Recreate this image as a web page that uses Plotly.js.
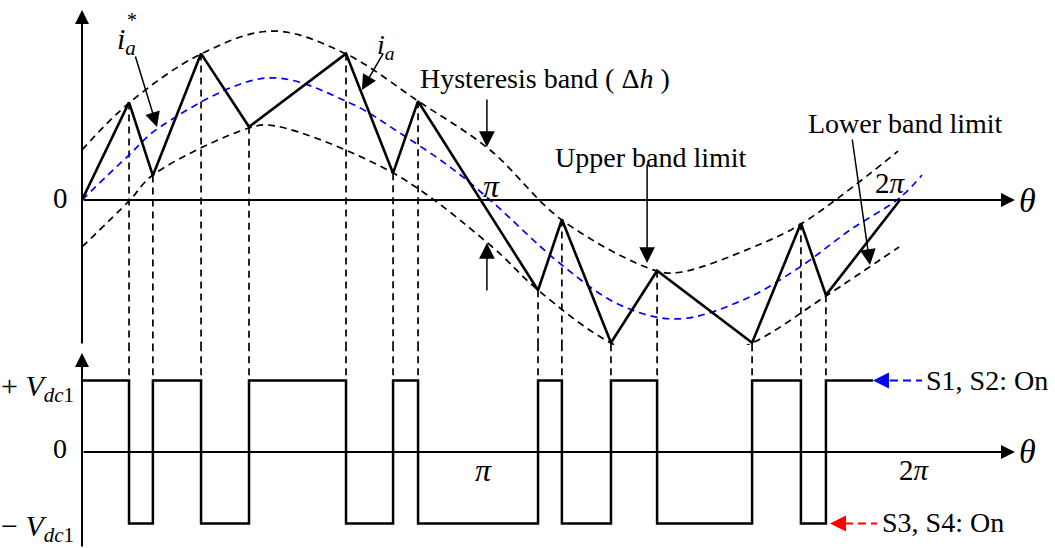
<!DOCTYPE html>
<html>
<head>
<meta charset="utf-8">
<script src="https://cdn.plot.ly/plotly-3.0.1.min.js"></script>
<style>
  html, body { margin: 0; padding: 0; background: #ffffff; }
  #chart { width: 1055px; height: 548px; }
</style>
</head>
<body>
<div id="chart"></div>
<script>
// Phase current i_a (turning points of the hysteresis-controlled current), theta in degrees
const iaTheta = [0, 20.7, 31.2, 52.4, 73.5, 116.2, 136.9, 147.9, 200.7, 211.2, 232.8, 253.1, 294.9, 316.4, 327.4, 360];
const iaValue = [0, 0.80, 0.20, 1.20, 0.60, 1.20, 0.22, 0.81, -0.74, -0.16, -1.17, -0.58, -1.17, -0.19, -0.78, 0];

// Reference current i_a*
const refTheta = [0, 20.2, 34.3, 81.4, 117.9, 139.9, 162.0, 179.6, 211.2, 236.8, 261.9, 290.9, 316.0, 338.0, 360.0, 369.7];
const refValue = [0, 0.36, 0.598, 1.0, 0.795, 0.549, 0.27, 0, -0.533, -0.861, -0.975, -0.82, -0.549, -0.246, 0.02, 0.205];

// Upper band limit
const upperTheta = [0, 20.7, 52.4, 84.1, 116.2, 147.9, 179.6, 211.2, 253.1, 264.0, 294.9, 316.4, 359.1];
const upperValue = [0.41, 0.795, 1.197, 1.385, 1.197, 0.811, 0.41, -0.164, -0.582, -0.59, -0.39, -0.197, 0.40];

// Lower band limit
const lowerTheta = [0, 21.1, 31.2, 73.5, 84.1, 136.9, 179.6, 200.7, 232.8, 263.2, 294.9, 327.4, 359.6];
const lowerValue = [-0.385, 0, 0.205, 0.59, 0.61, 0.221, -0.369, -0.738, -1.172, -1.37, -1.172, -0.787, -0.385];

// Inverter output voltage: segment start angles and levels (+1 = +Vdc1, -1 = -Vdc1)
const gateStart = [0, 20.7, 31.2, 52.4, 73.5, 116.2, 136.9, 147.9, 200.7, 211.2, 232.8, 253.1, 294.9, 316.4, 327.4];
const gateLevel = [1, -1, 1, -1, 1, -1, 1, -1, 1, -1, 1, -1, 1, -1, 1];
const gateEnd = 348.1;

const FONT = 'Liberation Serif, Times New Roman, serif';
const TOP_MIN = -1.1885, TOP_MAX = 1.6393;
const BOT_MIN = -1.3427, BOT_MAX = 1.4965;

// Dashed projection lines from each switching instant down to the +Vdc1 level
const dropTopX = [], dropTopY = [], dropBotX = [], dropBotY = [];
for (let k = 1; k < iaTheta.length - 1; k++) {
  dropTopX.push(iaTheta[k], iaTheta[k], null);
  dropTopY.push(iaValue[k], TOP_MIN - 0.01, null);
  dropBotX.push(iaTheta[k], iaTheta[k], null);
  dropBotY.push(BOT_MAX + 0.01, 1, null);
}

const dashBlack = {color: '#000000', width: 1.7, dash: '7px,5px'};

const traces = [
  {x: dropTopX, y: dropTopY, mode: 'lines', line: dashBlack, xaxis: 'x', yaxis: 'y'},
  {x: dropBotX, y: dropBotY, mode: 'lines', line: dashBlack, xaxis: 'x', yaxis: 'y2'},
  {x: upperTheta, y: upperValue, mode: 'lines', line: Object.assign({shape: 'spline', smoothing: 1}, dashBlack), xaxis: 'x', yaxis: 'y'},
  {x: lowerTheta, y: lowerValue, mode: 'lines', line: Object.assign({shape: 'spline', smoothing: 1}, dashBlack), xaxis: 'x', yaxis: 'y'},
  {x: refTheta, y: refValue, mode: 'lines', line: {color: '#0000ff', width: 1.7, dash: '7px,5px', shape: 'spline', smoothing: 1}, xaxis: 'x', yaxis: 'y'},
  {x: iaTheta, y: iaValue, mode: 'lines', line: {color: '#000000', width: 2.6}, xaxis: 'x', yaxis: 'y'},
  {x: gateStart.concat([gateEnd]), y: gateLevel.concat([gateLevel[gateLevel.length - 1]]), mode: 'lines',
   line: {color: '#000000', width: 2.5, shape: 'hv'}, xaxis: 'x', yaxis: 'y2'},
  // dashed tails of the switch-state pointers
  {x: [355.6, 369.7], y: [1, 1], mode: 'lines', line: {color: '#0000ff', width: 2, dash: '8px,5px'}, xaxis: 'x', yaxis: 'y2'},
  {x: [335.8, 349.9], y: [-1, -1], mode: 'lines', line: {color: '#ff0000', width: 2, dash: '8px,5px'}, xaxis: 'x', yaxis: 'y2'}
];

function arrow(x, y, ax, ay, yref, opts) {
  return Object.assign({
    x: x, y: y, ax: ax, ay: ay, xref: 'x', yref: yref, axref: 'x', ayref: yref,
    text: '', showarrow: true, arrowhead: 2, arrowsize: 1.4, arrowwidth: 2,
    arrowcolor: '#000000', standoff: 0, startstandoff: 0
  }, opts || {});
}

function label(text, x, y, yref, size, xanchor, extra) {
  return Object.assign({
    text: text, x: x, y: y, xref: 'x', yref: yref, showarrow: false,
    xanchor: xanchor || 'center', yanchor: 'middle',
    font: {family: FONT, size: size, color: '#000000'}
  }, extra || {});
}

const annotations = [
  // coordinate axes
  arrow(410.6, 0, 0, 0, 'y'),
  arrow(0, 1.557, 0, TOP_MIN, 'y'),
  arrow(410.6, 0, 0, 0, 'y2'),
  arrow(0, 1.385, 0, BOT_MIN, 'y2'),

  // pointer arrows
  arrow(33.0, 0.598, 23.3, 1.189, 'y', {arrowwidth: 1.5, arrowsize: 2.0}),
  arrow(123.2, 0.902, 132.9, 1.213, 'y', {arrowwidth: 1.5, arrowsize: 2.0}),
  arrow(178.2, 0.434, 178.2, 0.836, 'y', {arrowwidth: 1.5, arrowsize: 2.1}),
  arrow(178.2, -0.352, 178.2, -0.754, 'y', {arrowwidth: 1.5, arrowsize: 2.1}),
  arrow(248.7, -0.516, 248.7, 0.303, 'y', {arrowwidth: 1.5, arrowsize: 2.1}),
  arrow(346.8, -0.533, 338.9, 0.508, 'y', {arrowwidth: 1.5, arrowsize: 2.1}),
  arrow(348.1, 1, 355.9, 1, 'y2', {arrowcolor: '#0000ff', arrowsize: 1.6}),
  arrow(329.2, -1, 336.1, -1, 'y2', {arrowcolor: '#ff0000', arrowsize: 1.6}),

  // top panel text
  label('0', -9.68, 0.016, 'y', 29),
  label('<i>θ</i>', 416.3, 0, 'y', 34),
  label('<i>π</i>', 180.0, 0.115, 'y', 32),
  label('2<i>π</i>', 355.6, 0.139, 'y', 29),
  label('<i>i</i><sub><i>a</i></sub>', 14.5, 1.30, 'y', 30, 'left'),
  label('*', 22.0, 1.475, 'y', 20),
  label('<i>i</i><sub><i>a</i></sub>', 129.0, 1.26, 'y', 28, 'left'),
  label('Hysteresis band ( Δ<i>h</i> )', 147.9, 1.0, 'y', 28, 'left'),
  label('Upper band limit', 207.3, 0.352, 'y', 28, 'left'),
  label('Lower band limit', 318.6, 0.631, 'y', 28, 'left'),

  // bottom panel text
  label('0', -9.68, 0.042, 'y2', 28),
  label('<i>θ</i>', 416.3, 0, 'y2', 34),
  label('<i>π</i>', 176.9, -0.252, 'y2', 32),
  label('2<i>π</i>', 366.2, -0.252, 'y2', 29),
  label('+ <i>V</i><sub><i>dc</i>1</sub>', -2.64, 0.895, 'y2', 30, 'right'),
  label('− <i>V</i><sub><i>dc</i>1</sub>', -2.64, -1.06, 'y2', 30, 'right'),
  label('S1, S2: On', 370.6, 1.0, 'y2', 28, 'left'),
  label('S3, S4: On', 351.2, -0.98, 'y2', 28, 'left')
];

const hidden = {visible: false, showgrid: false, zeroline: false, fixedrange: true};

const layout = {
  width: 1055, height: 548,
  margin: {l: 0, r: 0, t: 0, b: 0, pad: 0},
  paper_bgcolor: '#ffffff', plot_bgcolor: '#ffffff',
  showlegend: false,
  font: {family: FONT, color: '#000000'},
  xaxis: Object.assign({range: [-36.088, 428.215], anchor: 'y2'}, hidden),
  yaxis: Object.assign({range: [TOP_MIN, TOP_MAX], domain: [0.37044, 1], anchor: 'x'}, hidden),
  yaxis2: Object.assign({range: [BOT_MIN, BOT_MAX], domain: [0, 0.37044], anchor: 'x'}, hidden),
  annotations: annotations
};

Plotly.newPlot('chart', traces, layout, {displayModeBar: false, staticPlot: true});
</script>
</body>
</html>
